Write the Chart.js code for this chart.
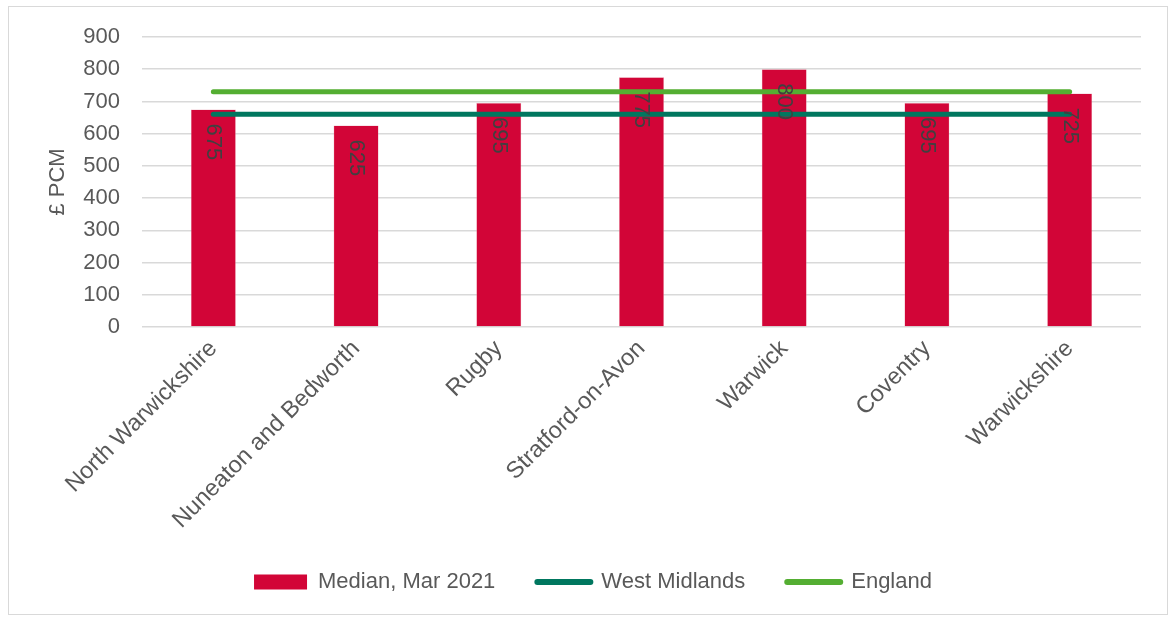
<!DOCTYPE html>
<html>
<head>
<meta charset="utf-8">
<script src="https://cdn.jsdelivr.net/npm/chart.js@4/dist/chart.umd.min.js"></script>
<style>
  html, body { margin: 0; padding: 0; background: #fff; }
  #frame {
    position: absolute; left: 8px; top: 6px; width: 1160px; height: 609px;
    border: 1px solid #d9d9d9; box-sizing: border-box;
  }
  #wrap { position: absolute; left: 0; top: 0; width: 1170px; height: 617px; }
</style>
</head>
<body>
<div id="frame"></div>
<div id="wrap"><canvas id="chart"></canvas></div>
<script>
const categories = ['North Warwickshire', 'Nuneaton and Bedworth', 'Rugby', 'Stratford-on-Avon', 'Warwick', 'Coventry', 'Warwickshire'];
const medianValues = [675, 625, 695, 775, 800, 695, 725];
const westMidlands = [660, 660, 660, 660, 660, 660, 660];
const england = [730, 730, 730, 730, 730, 730, 730];
const yTicks = [0, 100, 200, 300, 400, 500, 600, 700, 800, 900];

const FONT = '"Liberation Sans", Arial, sans-serif';
const GREY = '#595959';

// rotated value labels just inside the top of each bar
const barLabels = {
  id: 'barLabels',
  afterDatasetsDraw(chart) {
    const meta = chart.getDatasetMeta(0);
    const ctx = chart.ctx;
    ctx.save();
    ctx.fillStyle = '#404040';
    ctx.font = '22px ' + FONT;
    ctx.textAlign = 'left';
    ctx.textBaseline = 'middle';
    meta.data.forEach((bar, i) => {
      ctx.save();
      ctx.translate(bar.x, bar.y + 14);
      ctx.rotate(Math.PI / 2);
      ctx.fillText(String(medianValues[i]), 0, 0);
      ctx.restore();
    });
    ctx.restore();
  }
};

new Chart(document.getElementById('chart'), {
  data: {
    labels: categories,
    datasets: [
      {
        type: 'bar',
        label: 'Median, Mar 2021',
        data: medianValues,
        backgroundColor: '#D20537',
        borderColor: '#E8A0B0',
        borderWidth: 0.5,
        categoryPercentage: 1,
        barPercentage: 0.315,
        order: 3,
      },
      {
        type: 'line',
        label: 'West Midlands',
        data: westMidlands,
        borderColor: '#00775F',
        backgroundColor: '#00775F',
        borderWidth: 5,
        borderCapStyle: 'round',
        pointRadius: 0,
        fill: false,
        order: 2,
      },
      {
        type: 'line',
        label: 'England',
        data: england,
        borderColor: '#54AE32',
        backgroundColor: '#54AE32',
        borderWidth: 5,
        borderCapStyle: 'round',
        pointRadius: 0,
        fill: false,
        order: 1,
      },
    ],
  },
  options: {
    responsive: true,
    maintainAspectRatio: false,
    animation: false,
    layout: { padding: { left: 45, right: 29, top: 37, bottom: 14 } },
    plugins: {
      tooltip: { enabled: false },
      legend: {
        position: 'bottom',
        labels: {
          color: GREY,
          font: { family: FONT, size: 22 },
          usePointStyle: true,
          pointStyleWidth: 53,
          boxHeight: 15,
          padding: 42,
          generateLabels(chart) {
            return chart.data.datasets.map((ds, i) => ({
              text: ds.label,
              datasetIndex: i,
              fillStyle: ds.backgroundColor,
              strokeStyle: ds.type === 'line' ? ds.borderColor : ds.backgroundColor,
              lineWidth: ds.type === 'line' ? 6 : 0,
              lineCap: 'round',
              pointStyle: ds.type === 'line' ? 'line' : 'rect',
              fontColor: GREY,
            }));
          },
        },
      },
    },
    scales: {
      x: {
        grid: { display: false },
        border: { display: false },
        ticks: {
          color: GREY,
          font: { family: FONT, size: 23.5 },
          minRotation: 45,
          maxRotation: 45,
          padding: 0,
        },
        afterFit(axis) { axis.height = 202; },
      },
      y: {
        min: 0,
        max: 900,
        afterBuildTicks(axis) { axis.ticks = yTicks.map(v => ({ value: v })); },
        grid: { color: '#d9d9d9', lineWidth: 1.5, drawTicks: false },
        border: { display: false },
        ticks: {
          color: GREY,
          font: { family: FONT, size: 22 },
          padding: 22,
        },
        title: {
          display: true,
          text: '£ PCM',
          color: GREY,
          font: { family: FONT, size: 22 },
          padding: { top: 0, bottom: 0 },
        },
        afterFit(axis) { axis.width = 97; },
      },
    },
  },
  plugins: [barLabels],
});
</script>
</body>
</html>
